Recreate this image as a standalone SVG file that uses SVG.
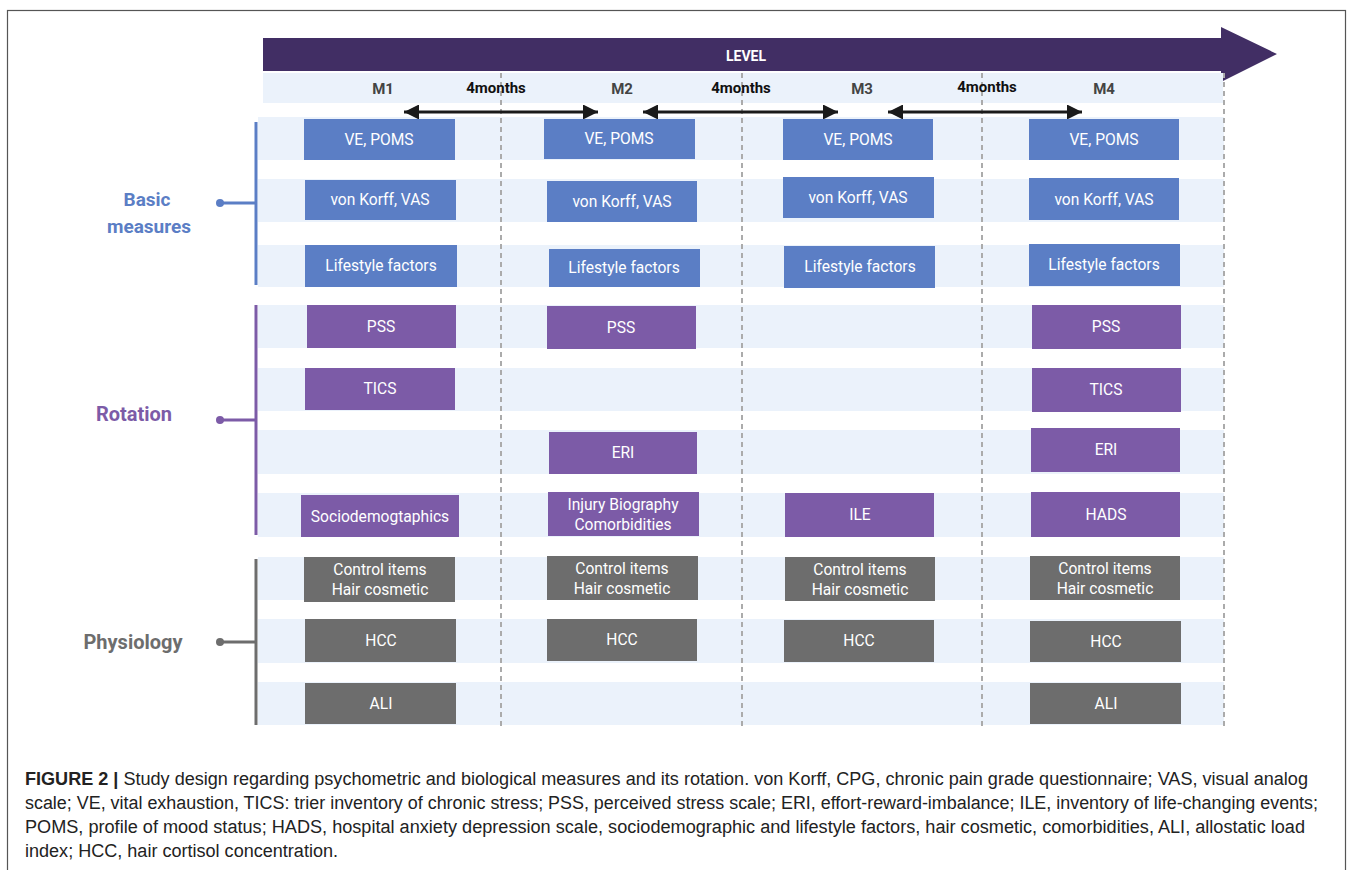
<svg xmlns="http://www.w3.org/2000/svg" width="1357" height="870" viewBox="0 0 1357 870">
<defs>
<style>
.band{fill:#EBF2FB}
.b{fill:#5B7EC5}
.p{fill:#7C5BA7}
.g{fill:#6D6D6D}
.bt{font-family:Roboto,"Liberation Sans",sans-serif;font-size:15.6px;fill:#fff;text-anchor:middle}
.m{font-family:Roboto,"Liberation Sans",sans-serif;font-size:15px;font-weight:bold;fill:#444;text-anchor:middle}
.mo{font-family:Roboto,"Liberation Sans",sans-serif;font-size:15px;font-weight:bold;fill:#111;text-anchor:middle}
.lab{font-family:Roboto,"Liberation Sans",sans-serif;font-size:20px;font-weight:bold;text-anchor:middle}
.dash{stroke:#ABABAB;stroke-width:2;stroke-dasharray:5 4;fill:none}
.cap{font-family:"Liberation Sans",Arial,sans-serif;font-size:18px;fill:#222}
</style>
<marker id="ah" viewBox="0 0 10 10" refX="10" refY="5" markerWidth="5" markerHeight="5" orient="auto-start-reverse" markerUnits="strokeWidth">
<path d="M0,0 L10,5 L0,10 z" fill="#1a1a1a"/>
</marker>
</defs>
<rect x="0" y="0" width="1357" height="870" fill="#fff"/>
<rect x="7.5" y="10.5" width="1338" height="880" fill="none" stroke="#555" stroke-width="1.2"/>

<!-- level arrow -->
<g id="level">
<path d="M263,38 H1221 V27 L1277,54 L1221,82 V71 H263 Z" fill="#412E64"/>
<rect x="263" y="73" width="960" height="30" class="band"/>
<text x="746" y="61" font-family="Roboto,'Liberation Sans',sans-serif" font-size="14" font-weight="bold" fill="#fff" text-anchor="middle">LEVEL</text>
</g>

<!-- bands -->
<g id="bands">
<rect x="258" y="117" width="966" height="43" class="band"/>
<rect x="258" y="179" width="966" height="43" class="band"/>
<rect x="258" y="245" width="966" height="42" class="band"/>
<rect x="258" y="305" width="966" height="43" class="band"/>
<rect x="258" y="368" width="966" height="43" class="band"/>
<rect x="258" y="430" width="966" height="44" class="band"/>
<rect x="258" y="493" width="966" height="44" class="band"/>
<rect x="258" y="557" width="966" height="43" class="band"/>
<rect x="258" y="619" width="966" height="44" class="band"/>
<rect x="258" y="682" width="966" height="43" class="band"/>
</g>

<g id="grid">
<line x1="501" y1="73" x2="501" y2="728" class="dash"/>
<line x1="742" y1="73" x2="742" y2="728" class="dash"/>
<line x1="982" y1="73" x2="982" y2="728" class="dash"/>
<line x1="1224" y1="73" x2="1224" y2="728" class="dash"/>
</g>

<g id="headers">
<text x="383" y="94" class="m">M1</text>
<text x="622" y="94" class="m">M2</text>
<text x="862" y="94" class="m">M3</text>
<text x="1104" y="94" class="m">M4</text>
<text x="496" y="93" class="mo">4months</text>
<text x="741" y="93" class="mo">4months</text>
<text x="987" y="92" class="mo">4months</text>
</g>

<g id="connectors">
<line x1="404" y1="112" x2="598" y2="112" stroke="#1a1a1a" stroke-width="3" marker-start="url(#ah)" marker-end="url(#ah)"/>
<line x1="643" y1="112" x2="838" y2="112" stroke="#1a1a1a" stroke-width="3" marker-start="url(#ah)" marker-end="url(#ah)"/>
<line x1="888" y1="112" x2="1082" y2="112" stroke="#1a1a1a" stroke-width="3" marker-start="url(#ah)" marker-end="url(#ah)"/>
<!-- group brackets -->
<g stroke="#5B7EC5" stroke-width="3" fill="#5B7EC5">
<line x1="256" y1="122" x2="256" y2="285"/>
<line x1="219" y1="203" x2="256" y2="203"/>
<circle cx="220" cy="203" r="4" stroke="none"/>
</g>
<g stroke="#7C5BA7" stroke-width="3" fill="#7C5BA7">
<line x1="256" y1="305" x2="256" y2="535"/>
<line x1="219" y1="420" x2="256" y2="420"/>
<circle cx="220" cy="420" r="4" stroke="none"/>
</g>
<g stroke="#6D6D6D" stroke-width="3" fill="#6D6D6D">
<line x1="256" y1="559" x2="256" y2="725"/>
<line x1="219" y1="642" x2="256" y2="642"/>
<circle cx="220" cy="642" r="4" stroke="none"/>
</g>
</g>

<g id="group-labels">
<text x="147" y="206" class="lab" fill="#5B7EC5" style="font-size:19px">Basic</text>
<text x="149" y="233" class="lab" fill="#5B7EC5" style="font-size:19px">measures</text>
<text x="134" y="421" class="lab" fill="#7C5BA7">Rotation</text>
<text x="133" y="649" class="lab" fill="#6D6D6D">Physiology</text>
</g>

<!-- M1 -->
<g id="m1-ve"><rect x="304" y="119" width="151" height="41" class="b"/><text x="379" y="145" class="bt">VE, POMS</text></g>
<g id="m1-vk"><rect x="305" y="180" width="151" height="40" class="b"/><text x="380" y="205" class="bt">von Korff, VAS</text></g>
<g id="m1-ls"><rect x="305" y="245" width="152" height="42" class="b"/><text x="381" y="271" class="bt">Lifestyle factors</text></g>
<g id="m1-pss"><rect x="307" y="305" width="149" height="43" class="p"/><text x="381" y="332" class="bt">PSS</text></g>
<g id="m1-tics"><rect x="305" y="368" width="150" height="42" class="p"/><text x="380" y="394" class="bt">TICS</text></g>
<g id="m1-socio"><rect x="301" y="495" width="158" height="42" class="p"/><text x="380" y="522" class="bt">Sociodemogtaphics</text></g>
<g id="m1-ctrl"><rect x="304" y="557" width="151" height="45" class="g"/><text x="380" y="575" class="bt">Control items</text><text x="380" y="595" class="bt">Hair cosmetic</text></g>
<g id="m1-hcc"><rect x="305" y="619" width="151" height="43" class="g"/><text x="381" y="646" class="bt">HCC</text></g>
<g id="m1-ali"><rect x="305" y="683" width="151" height="41" class="g"/><text x="381" y="709" class="bt">ALI</text></g>

<!-- M2 -->
<g id="m2-ve"><rect x="544" y="119" width="151" height="40" class="b"/><text x="619" y="144" class="bt">VE, POMS</text></g>
<g id="m2-vk"><rect x="547" y="181" width="150" height="41" class="b"/><text x="622" y="207" class="bt">von Korff, VAS</text></g>
<g id="m2-ls"><rect x="549" y="249" width="151" height="38" class="b"/><text x="624" y="273" class="bt">Lifestyle factors</text></g>
<g id="m2-pss"><rect x="547" y="306" width="149" height="43" class="p"/><text x="621" y="333" class="bt">PSS</text></g>
<g id="m2-eri"><rect x="549" y="432" width="148" height="42" class="p"/><text x="623" y="458" class="bt">ERI</text></g>
<g id="m2-inj"><rect x="548" y="492" width="151" height="44" class="p"/><text x="623" y="510" class="bt">Injury Biography</text><text x="623" y="530" class="bt">Comorbidities</text></g>
<g id="m2-ctrl"><rect x="547" y="556" width="151" height="44" class="g"/><text x="622" y="574" class="bt">Control items</text><text x="622" y="594" class="bt">Hair cosmetic</text></g>
<g id="m2-hcc"><rect x="547" y="619" width="150" height="42" class="g"/><text x="622" y="645" class="bt">HCC</text></g>

<!-- M3 -->
<g id="m3-ve"><rect x="783" y="119" width="150" height="41" class="b"/><text x="858" y="145" class="bt">VE, POMS</text></g>
<g id="m3-vk"><rect x="783" y="177" width="151" height="41" class="b"/><text x="858" y="203" class="bt">von Korff, VAS</text></g>
<g id="m3-ls"><rect x="784" y="246" width="151" height="42" class="b"/><text x="860" y="272" class="bt">Lifestyle factors</text></g>
<g id="m3-ile"><rect x="785" y="493" width="149" height="44" class="p"/><text x="860" y="520" class="bt">ILE</text></g>
<g id="m3-ctrl"><rect x="785" y="557" width="150" height="44" class="g"/><text x="860" y="575" class="bt">Control items</text><text x="860" y="595" class="bt">Hair cosmetic</text></g>
<g id="m3-hcc"><rect x="784" y="620" width="150" height="42" class="g"/><text x="859" y="646" class="bt">HCC</text></g>

<!-- M4 -->
<g id="m4-ve"><rect x="1029" y="119" width="150" height="41" class="b"/><text x="1104" y="145" class="bt">VE, POMS</text></g>
<g id="m4-vk"><rect x="1029" y="178" width="150" height="42" class="b"/><text x="1104" y="205" class="bt">von Korff, VAS</text></g>
<g id="m4-ls"><rect x="1029" y="244" width="151" height="42" class="b"/><text x="1104" y="270" class="bt">Lifestyle factors</text></g>
<g id="m4-pss"><rect x="1032" y="305" width="149" height="44" class="p"/><text x="1106" y="332" class="bt">PSS</text></g>
<g id="m4-tics"><rect x="1032" y="368" width="149" height="44" class="p"/><text x="1106" y="395" class="bt">TICS</text></g>
<g id="m4-eri"><rect x="1031" y="428" width="149" height="44" class="p"/><text x="1106" y="455" class="bt">ERI</text></g>
<g id="m4-hads"><rect x="1031" y="492" width="149" height="45" class="p"/><text x="1106" y="520" class="bt">HADS</text></g>
<g id="m4-ctrl"><rect x="1030" y="556" width="150" height="44" class="g"/><text x="1105" y="574" class="bt">Control items</text><text x="1105" y="594" class="bt">Hair cosmetic</text></g>
<g id="m4-hcc"><rect x="1030" y="621" width="151" height="41" class="g"/><text x="1106" y="647" class="bt">HCC</text></g>
<g id="m4-ali"><rect x="1030" y="683" width="151" height="41" class="g"/><text x="1106" y="709" class="bt">ALI</text></g>

<g id="caption">
<text x="25" y="785" class="cap" textLength="1283" lengthAdjust="spacingAndGlyphs"><tspan font-weight="bold">FIGURE 2 |</tspan> Study design regarding psychometric and biological measures and its rotation. von Korff, CPG, chronic pain grade questionnaire; VAS, visual analog</text>
<text x="25" y="809" class="cap" textLength="1293" lengthAdjust="spacingAndGlyphs">scale; VE, vital exhaustion, TICS: trier inventory of chronic stress; PSS, perceived stress scale; ERI, effort-reward-imbalance; ILE, inventory of life-changing events;</text>
<text x="25" y="833" class="cap" textLength="1280" lengthAdjust="spacingAndGlyphs">POMS, profile of mood status; HADS, hospital anxiety depression scale, sociodemographic and lifestyle factors, hair cosmetic, comorbidities, ALI, allostatic load</text>
<text x="25" y="857" class="cap" textLength="313" lengthAdjust="spacingAndGlyphs">index; HCC, hair cortisol concentration.</text>
</g>
</svg>
